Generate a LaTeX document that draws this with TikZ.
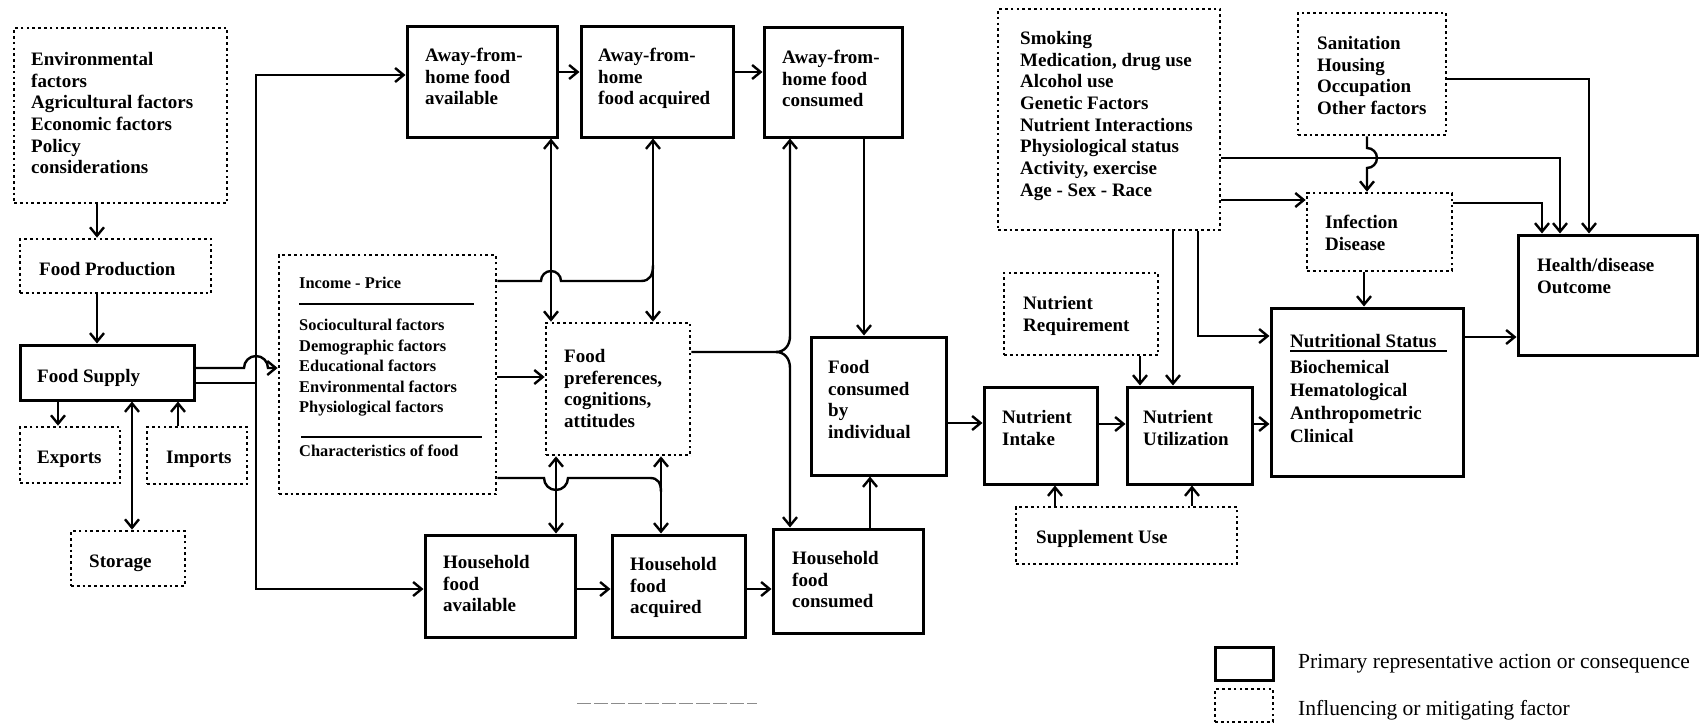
\documentclass[tikz,border=0pt]{standalone}
\usepackage{fontspec}
\setmainfont{Liberation Serif}
\usetikzlibrary{arrows.meta,fit}
\begin{document}
\begin{tikzpicture}[x=1pt,y=-1pt,
  prim/.style={draw, line width=3pt, inner sep=0pt},
  infl/.style={draw, line width=2.7pt, dash pattern=on 2.7pt off 3.1pt, inner sep=0pt},
  txt/.style={inner sep=0pt, align=left, font=\fontsize{19}{21.7}\selectfont\bfseries},
  stxt/.style={inner sep=0pt, align=left, font=\fontsize{16.4}{20.5}\selectfont\bfseries},
  ltxt/.style={inner sep=0pt, font=\fontsize{21.5}{24}\selectfont},
  line/.style={line width=2.4pt},
  conn/.style={line width=2.4pt, -{Straight Barb[length=8.5pt,width=14pt]}},
  dconn/.style={line width=2.4pt, {Straight Barb[length=8.5pt,width=14pt]}-{Straight Barb[length=8.5pt,width=14pt]}}
]
\useasboundingbox (0,0) rectangle (1701,725);

% ---- food supply side ----
\node[infl, fit={(14,28)(227,203)}] (env) {};
\node[txt, anchor=north west] (env-t) at (31,52) {Environmental\\factors\\Agricultural factors\\Economic factors\\Policy\\considerations};
\node[infl, fit={(20,239)(211,293)}] (fprod) {};
\node[txt, anchor=base west] (fprod-t) at (39,275) {Food Production};
\node[prim, fit={(20,345)(194,400)}] (fsup) {};
\node[txt, anchor=base west] (fsup-t) at (37,382) {Food Supply};
\node[infl, fit={(20,427)(120,483)}] (exp) {};
\node[txt, anchor=base west] (exp-t) at (37,463) {Exports};
\node[infl, fit={(147,427)(247,484)}] (imp) {};
\node[txt, anchor=base west] (imp-t) at (166,463) {Imports};
\node[infl, fit={(71,531)(185,586)}] (stor) {};
\node[txt, anchor=base west] (stor-t) at (89,567) {Storage};

% ---- away-from-home chain ----
\node[prim, fit={(407,27)(557,137)}] (afa) {};
\node[txt, anchor=north west] (afa-t) at (425,48) {Away-from-\\home food\\available};
\node[prim, fit={(581,27)(733,137)}] (afq) {};
\node[txt, anchor=north west] (afq-t) at (598,48) {Away-from-\\home\\food acquired};
\node[prim, fit={(764,28)(902,137)}] (afc) {};
\node[txt, anchor=north west] (afc-t) at (782,50) {Away-from-\\home food\\consumed};

% ---- influences on choice ----
\node[infl, fit={(279,255)(496,494)}] (inc) {};
\node[stxt, anchor=base west] (inc-t1) at (299,288) {Income - Price};
\draw[line width=2.2pt] (299,304) -- (474,304);
\node[stxt, anchor=north west] (inc-t2) at (299,319) {Sociocultural factors\\Demographic factors\\Educational factors\\Environmental factors\\Physiological factors};
\draw[line width=2.2pt] (301,437) -- (482,437);
\node[stxt, anchor=base west] (inc-t3) at (299,456) {Characteristics of food};
\node[infl, fit={(546,323)(690,455)}] (pref) {};
\node[txt, anchor=north west] (pref-t) at (564,349) {Food\\preferences,\\cognitions,\\attitudes};

% ---- household chain ----
\node[prim, fit={(425,535)(575,637)}] (hfa) {};
\node[txt, anchor=north west] (hfa-t) at (443,555) {Household\\food\\available};
\node[prim, fit={(612,535)(745,637)}] (hfq) {};
\node[txt, anchor=north west] (hfq-t) at (630,557) {Household\\food\\acquired};
\node[prim, fit={(773,529)(923,633)}] (hfc) {};
\node[txt, anchor=north west] (hfc-t) at (792,551) {Household\\food\\consumed};
\node[prim, fit={(811,337)(946,475)}] (fci) {};
\node[txt, anchor=north west] (fci-t) at (828,360) {Food\\consumed\\by\\individual};

% ---- nutrient side ----
\node[prim, fit={(984,387)(1097,484)}] (ni) {};
\node[txt, anchor=north west] (ni-t) at (1002,410) {Nutrient\\Intake};
\node[prim, fit={(1127,387)(1252,484)}] (nu) {};
\node[txt, anchor=north west] (nu-t) at (1143,410) {Nutrient\\Utilization};
\node[infl, fit={(1004,273)(1158,355)}] (nr) {};
\node[txt, anchor=north west] (nr-t) at (1023,296) {Nutrient\\Requirement};
\node[infl, fit={(1016,507)(1237,564)}] (sup) {};
\node[txt, anchor=base west] (sup-t) at (1036,543) {Supplement Use};
\node[infl, fit={(998,9)(1220,230)}] (smk) {};
\node[txt, anchor=north west] (smk-t) at (1020,31) {Smoking\\Medication, drug use\\Alcohol use\\Genetic Factors\\Nutrient Interactions\\Physiological status\\Activity, exercise\\Age - Sex - Race};
\node[infl, fit={(1298,13)(1446,135)}] (san) {};
\node[txt, anchor=north west] (san-t) at (1317,36) {Sanitation\\Housing\\Occupation\\Other factors};
\node[infl, fit={(1307,193)(1452,271)}] (inf) {};
\node[txt, anchor=north west] (inf-t) at (1325,215) {Infection\\Disease};
\node[prim, fit={(1271,308)(1463,476)}] (ns) {};
\node[txt, anchor=north west] (ns-t1) at (1290,334) {Nutritional Status};
\draw[line width=2pt] (1290,351) -- (1447,351);
\node[txt, anchor=north west, font=\fontsize{19}{23}\selectfont\bfseries] (ns-t2) at (1290,360) {Biochemical\\Hematological\\Anthropometric\\Clinical};
\node[prim, fit={(1518,235)(1697,355)}] (hlth) {};
\node[txt, anchor=north west] (hlth-t) at (1537,258) {Health/disease\\Outcome};

% ---- key ----
\node[prim, fit={(1215,647)(1273,680)}] (key1) {};
\node[ltxt, anchor=base west] (key1-t) at (1298,668) {Primary representative action or consequence};
\node[infl, fit={(1215,689)(1273,722)}] (key2) {};
\node[ltxt, anchor=base west] (key2-t) at (1298,715) {Influencing or mitigating factor};

% ---- connectors: supply ----
\draw[conn] (97,0 |- env.south) -- (97,0 |- fprod.north);
\draw[conn] (97,0 |- fprod.south) -- (97,0 |- fsup.north);
\draw[conn] (58,0 |- fsup.south) -- (58,0 |- exp.north);
\draw[conn] (178,0 |- imp.north) -- (178,0 |- fsup.south);
\draw[dconn] (132,0 |- fsup.south) -- (132,0 |- stor.north);
\draw[conn] (fsup.east |- 0,368) -- (244,368) arc[start angle=180,end angle=360,radius=12] -- (inc.west |- 0,368);
\draw[dconn] (afa.west |- 0,75) -- (256,75) -- (256,589) -- (hfa.west |- 0,589);
\draw[line] (fsup.east |- 0,383) -- (256,383);

% ---- connectors: acquisition chains ----
\draw[conn] (afa.east |- 0,72) -- (afq.west |- 0,72);
\draw[conn] (afq.east |- 0,72) -- (afc.west |- 0,72);
\draw[dconn] (551,0 |- afa.south) -- (551,0 |- pref.north);
\draw[dconn] (653,0 |- afq.south) -- (653,0 |- pref.north);
\draw[line] (inc.east |- 0,281) -- (541,281) arc[start angle=180,end angle=360,radius=10] -- (641,281) .. controls (650,281) and (653,275) .. (653,265);
\draw[conn] (inc.east |- 0,377) -- (pref.west |- 0,377);
\draw[line] (inc.east |- 0,478) -- (544,478) arc[start angle=180,end angle=0,radius=12] -- (650,478) .. controls (658,478) and (661,483) .. (661,492);
\draw[dconn] (556,0 |- pref.south) -- (556,0 |- hfa.north);
\draw[dconn] (661,0 |- pref.south) -- (661,0 |- hfq.north);
\draw[conn] (hfa.east |- 0,589) -- (hfq.west |- 0,589);
\draw[conn] (hfq.east |- 0,589) -- (hfc.west |- 0,589);
\draw[conn] (pref.east |- 0,352) -- (776,352) .. controls (784,352) and (790,346) .. (790,336) -- (790,0 |- afc.south);
\draw[conn] (776,352) .. controls (784,352) and (790,358) .. (790,368) -- (790,0 |- hfc.north);
\draw[conn] (864,0 |- afc.south) -- (864,0 |- fci.north);
\draw[conn] (870,0 |- hfc.north) -- (870,0 |- fci.south);

% ---- connectors: nutrients and health ----
\draw[conn] (fci.east |- 0,423) -- (ni.west |- 0,423);
\draw[conn] (ni.east |- 0,424) -- (nu.west |- 0,424);
\draw[conn] (1140,0 |- nr.south) -- (1140,0 |- nu.north);
\draw[conn] (1173,0 |- smk.south) -- (1173,0 |- nu.north);
\draw[conn] (1198,0 |- smk.south) -- (1198,336) -- (ns.west |- 0,336);
\draw[conn] (1055,0 |- sup.north) -- (1055,0 |- ni.south);
\draw[conn] (1192,0 |- sup.north) -- (1192,0 |- nu.south);
\draw[conn] (nu.east |- 0,424) -- (ns.west |- 0,424);
\draw[conn] (ns.east |- 0,337) -- (hlth.west |- 0,337);
\draw[conn] (smk.east |- 0,158) -- (1560,158) -- (1560,0 |- hlth.north);
\draw[conn] (smk.east |- 0,200) -- (inf.west |- 0,200);
\draw[conn] (1367,0 |- san.south) -- (1367,148) arc[start angle=-90,end angle=90,radius=10] -- (1367,0 |- inf.north);
\draw[conn] (inf.east |- 0,203) -- (1542,203) -- (1542,0 |- hlth.north);
\draw[conn] (san.east |- 0,79) -- (1589,79) -- (1589,0 |- hlth.north);
\draw[conn] (1364,0 |- inf.south) -- (1364,0 |- ns.north);

% faint rule near the foot of the page
\draw[black!45, line width=1pt, dash pattern=on 14pt off 3pt] (577,703) -- (757,703);
\end{tikzpicture}
\end{document}
